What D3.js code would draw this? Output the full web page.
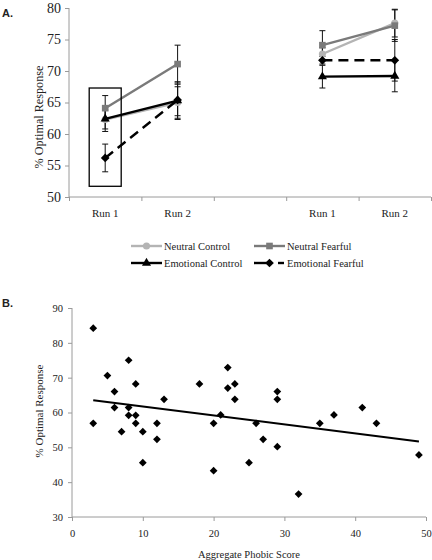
<!DOCTYPE html>
<html><head><meta charset="utf-8">
<script src="https://cdn.jsdelivr.net/npm/d3@7"></script>
<style>body{margin:0;background:#fff}svg{display:block}svg text{font-family:"Liberation Serif","Times New Roman",Tinos,"Nimbus Roman","DejaVu Serif",serif !important;fill:#222}svg text.lab{font-family:"Liberation Sans",Arial,sans-serif !important;font-weight:bold}</style>
</head><body><svg id="c" width="432" height="560"></svg>
<script>
// Panel A data
const categories = ["Run 1", "Run 2", "", "Run 1", "Run 2"];
const seriesNames = ["Neutral Control", "Neutral Fearful", "Emotional Control", "Emotional Fearful"];
const neutralControl   = [62.3, 65.0, null, 72.7, 77.6];
const neutralFearful   = [64.1, 71.1, null, 74.1, 77.2];
const emotionalControl = [62.4, 65.3, null, 69.1, 69.2];
const emotionalFearful = [56.2, 65.4, null, 71.7, 71.7];
const errNeutralControl   = [1.5, 2.5, null, 1.0, 2.2];
const errNeutralFearful   = [2.0, 3.0, null, 2.3, 2.5];
const errEmotionalControl = [2.0, 3.0, null, 1.8, 2.5];
const errEmotionalFearful = [2.2, 2.5, null, 0.6, 3.3];
const yTicksA = [50, 55, 60, 65, 70, 75, 80];
// Panel B data
const phobicScore = [3,3,5,6,6,7,8,8,8,9,9,9,10,10,12,12,13,18,20,20,21,22,22,23,23,26,27,25,29,29,29,32,35,37,41,43,49];
const optimalResp = [84.2,56.9,70.6,66.0,61.4,54.5,75.0,61.4,59.2,68.2,59.2,56.9,54.5,45.6,56.9,52.3,63.8,68.2,56.9,43.3,59.3,72.9,67.0,68.2,63.8,56.9,52.3,45.6,66.0,63.8,50.2,36.6,56.9,59.3,61.4,56.9,47.8];
const trendX = [3, 49];
const trendY = [63.5, 51.7];
const xTicksB = [0, 10, 20, 30, 40, 50];
const yTicksB = [30, 40, 50, 60, 70, 80, 90];

const svg = d3.select("#c");
const axisCol = "#9a9a9a";

// ---------- Panel A ----------
const xA = d3.scaleLinear().domain([0, categories.length]).range([69, 431]);
const xc = i => xA(i + 0.5);
const yA = d3.scaleLinear().domain([50, 80]).range([197, 8]);

const gA = svg.append("g");
const yAxA = gA.append("g").attr("transform", "translate(69,0)")
  .call(d3.axisLeft(yA).tickValues(yTicksA).tickSize(4).tickPadding(4));
const xAxA = gA.append("g").attr("transform", "translate(0,197)")
  .call(d3.axisBottom(xA).tickValues(d3.range(categories.length + 1)).tickSize(4).tickFormat(""));
[yAxA, xAxA].forEach(a => { a.selectAll("path,line").attr("stroke", axisCol); a.select(".domain").attr("d", null); });
yAxA.append("line").attr("x1",0).attr("x2",0).attr("y1",yA(80)).attr("y2",yA(50)).attr("stroke",axisCol);
xAxA.append("line").attr("x1",69).attr("x2",431).attr("y1",0).attr("y2",0).attr("stroke",axisCol);
yAxA.selectAll("text").style("font-size","14px").attr("fill","#222");
gA.selectAll(".runlab").data(categories).join("text")
  .attr("x", (d, i) => xc(i)).attr("y", 217).attr("text-anchor", "middle")
  .style("font-size", "11px").text(d => d);
gA.append("text").attr("transform", "translate(43,117) rotate(-90)").attr("text-anchor", "middle")
  .style("font-size", "12.2px").text("% Optimal Response");

const series = [
  {name: seriesNames[0], v: neutralControl, e: errNeutralControl, color: "#b4b4b4", sym: d3.symbolCircle, size: 40, rot: 0, dash: null},
  {name: seriesNames[1], v: neutralFearful, e: errNeutralFearful, color: "#7a7a7a", sym: d3.symbolSquare, size: 44, rot: 0, dash: null},
  {name: seriesNames[2], v: emotionalControl, e: errEmotionalControl, color: "#000", sym: d3.symbolTriangle, size: 36, rot: 0, dash: null},
  {name: seriesNames[3], v: emotionalFearful, e: errEmotionalFearful, color: "#000", sym: d3.symbolSquare, size: 38, rot: 45, dash: "10,6"}
];
// error bars
series.forEach(s => {
  s.v.forEach((v, i) => {
    if (v == null) return;
    const g = gA.append("g").attr("stroke", "#111").attr("stroke-width", 1);
    g.append("line").attr("x1", xc(i)).attr("x2", xc(i)).attr("y1", yA(v - s.e[i])).attr("y2", yA(v + s.e[i]));
    [v - s.e[i], v + s.e[i]].forEach(t => g.append("line").attr("x1", xc(i) - 3).attr("x2", xc(i) + 3).attr("y1", yA(t)).attr("y2", yA(t)));
  });
});
const lineA = d3.line().defined(d => d.v != null).x(d => xc(d.i)).y(d => yA(d.v));
series.forEach(s => {
  const pts = s.v.map((v, i) => ({v, i}));
  gA.append("path").attr("d", lineA(pts)).attr("fill", "none").attr("stroke", s.color)
    .attr("stroke-width", 2.4).attr("stroke-dasharray", s.dash);
  gA.selectAll(null).data(pts.filter(p => p.v != null)).join("path")
    .attr("d", d3.symbol(s.sym, s.size))
    .attr("transform", p => `translate(${xc(p.i)},${yA(p.v)}) rotate(${s.rot})`)
    .attr("fill", s.color);
});
// highlight box around Run 1 (first group)
gA.append("rect").attr("x", xc(0) - 16).attr("y", yA(67.3)).attr("width", 32).attr("height", yA(51.7) - yA(67.3))
  .attr("fill", "none").attr("stroke", "#000").attr("stroke-width", 1.3);

// legend
const legPos = [[131, 246], [254, 246], [131, 263], [254, 263]];
series.forEach((s, k) => {
  const [lx, ly] = legPos[k];
  const g = svg.append("g").attr("transform", `translate(${lx},${ly})`);
  if (s.dash) {
    g.append("line").attr("x1", 0).attr("x2", 16).attr("y1", 0).attr("y2", 0).attr("stroke", s.color).attr("stroke-width", 2.4);
    g.append("line").attr("x1", 24).attr("x2", 30).attr("y1", 0).attr("y2", 0).attr("stroke", s.color).attr("stroke-width", 2.4);
  } else {
    g.append("line").attr("x1", 0).attr("x2", 31).attr("y1", 0).attr("y2", 0).attr("stroke", s.color).attr("stroke-width", 2.4);
  }
  g.append("path").attr("d", d3.symbol(s.sym, s.size)).attr("transform", `translate(15.5,0) rotate(${s.rot})`).attr("fill", s.color);
  g.append("text").attr("x", 33).attr("y", 3.5).style("font-size", "10.5px").text(s.name);
});

// panel letters
svg.append("text").attr("class", "lab").attr("x", 2).attr("y", 17).style("font-size", "11px").text("A.");
svg.append("text").attr("class", "lab").attr("x", 2).attr("y", 307).style("font-size", "11px").text("B.");

// ---------- Panel B ----------
const xB = d3.scaleLinear().domain([0, 50]).range([72, 426]);
const yB = d3.scaleLinear().domain([30, 90]).range([517, 308]);
const gB = svg.append("g");
const yAxB = gB.append("g").attr("transform", "translate(72,0)")
  .call(d3.axisLeft(yB).tickValues(yTicksB).tickSize(4).tickPadding(5));
const xAxB = gB.append("g").attr("transform", "translate(0,517)")
  .call(d3.axisBottom(xB).tickValues(xTicksB).tickSize(4).tickPadding(9));
[yAxB, xAxB].forEach(a => {
  a.selectAll("path,line").attr("stroke", axisCol);
  a.select(".domain").attr("d", null);
  a.selectAll("text").style("font-size", "10.5px").attr("fill", "#222");
});
yAxB.append("line").attr("x1",0).attr("x2",0).attr("y1",yB(90)).attr("y2",yB(30)).attr("stroke",axisCol);
xAxB.append("line").attr("x1",72).attr("x2",426).attr("y1",0).attr("y2",0).attr("stroke",axisCol);
gB.append("text").attr("transform", "translate(43,411) rotate(-90)").attr("text-anchor", "middle")
  .style("font-size", "11px").text("% Optimal Response");
gB.append("text").attr("x", 249).attr("y", 558).attr("text-anchor", "middle")
  .style("font-size", "10.5px").text("Aggregate Phobic Score");
gB.append("path").attr("d", d3.line().x((d, i) => xB(trendX[i])).y(d => yB(d))(trendY))
  .attr("stroke", "#000").attr("stroke-width", 2).attr("fill", "none");
gB.selectAll(".pt").data(phobicScore).join("path")
  .attr("d", d3.symbol(d3.symbolSquare, 30))
  .attr("transform", (d, i) => `translate(${xB(d)},${yB(optimalResp[i])}) rotate(45)`)
  .attr("fill", "#000");
</script></body></html>
